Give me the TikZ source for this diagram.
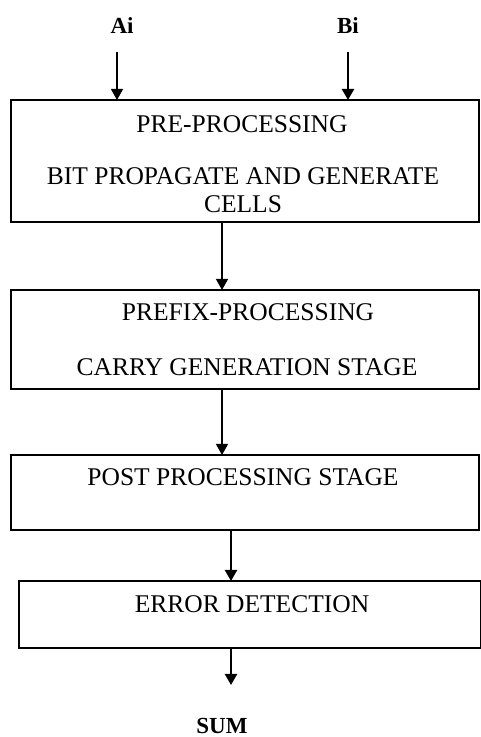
\documentclass[tikz,border=0pt]{standalone}
\usepackage{fontspec}
\setmainfont{Liberation Serif}
\usetikzlibrary{arrows.meta}
\tikzset{
  stage/.style={draw, line width=1.2pt, inner sep=0pt, outer sep=0pt, minimum width=468pt},
  caption/.style={font=\fontsize{25.5}{30}\selectfont, anchor=base, inner sep=0pt},
  port/.style={font=\bfseries\fontsize{23}{27}\selectfont, anchor=base, inner sep=0pt},
  link/.style={->, line width=1.3pt},
  boldlink/.style={->, line width=2.4pt},
}
\begin{document}
\begin{tikzpicture}[x=1pt,y=1pt,>={Triangle[length=11pt,width=12pt]}]
	\useasboundingbox (0,0) rectangle (480,737);
	% inputs
	\node[port] (ai) at (122,703) {Ai};
	\node[port] (bi) at (348,703) {Bi};
	\coordinate (ain) at (117,685);
	\coordinate (bin) at (348,685);
	
	% stage boxes
	\node[stage, minimum height=122pt] (pre) at (245,576) {};
	\node[stage, minimum height=99pt] (prefix) at (245,397.5) {};
	\node[stage, minimum height=75pt] (post) at (245,244.5) {};
	\node[stage, minimum height=67pt, minimum width=462pt] (err) at (250,122.5) {};
	
	% stage texts
	\node[caption] (preA) at (242,604) {PRE-PROCESSING};
	\node[caption] (preB) at (243,552) {BIT PROPAGATE AND GENERATE};
	\node[caption] (preC) at (243,524) {CELLS};
	\node[caption] (prefixA) at (248,416) {PREFIX-PROCESSING};
	\node[caption] (prefixB) at (247,361) {CARRY GENERATION STAGE};
	\node[caption] (postA) at (243,251) {POST PROCESSING STAGE};
	\node[caption] (errA) at (252,124) {ERROR DETECTION};
	
	% output
	\node[port] (sum) at (222,4) {SUM};
	\coordinate (out) at (231,52);
	
	% connectors
	\draw[link] (ain) -- (ain |- pre.north);
	\draw[boldlink] (bin) -- (bin |- pre.north);
	\draw[link] ([xshift=-23pt]pre.south) -- ([xshift=-23pt]prefix.north);
	\draw[link] ([xshift=-23pt]prefix.south) -- ([xshift=-23pt]post.north);
	\draw[boldlink] ([xshift=-14pt]post.south) -- ([xshift=-19pt]err.north);
	\draw[boldlink] ([xshift=-19pt]err.south) -- (out);
	
\end{tikzpicture}
\end{document}
